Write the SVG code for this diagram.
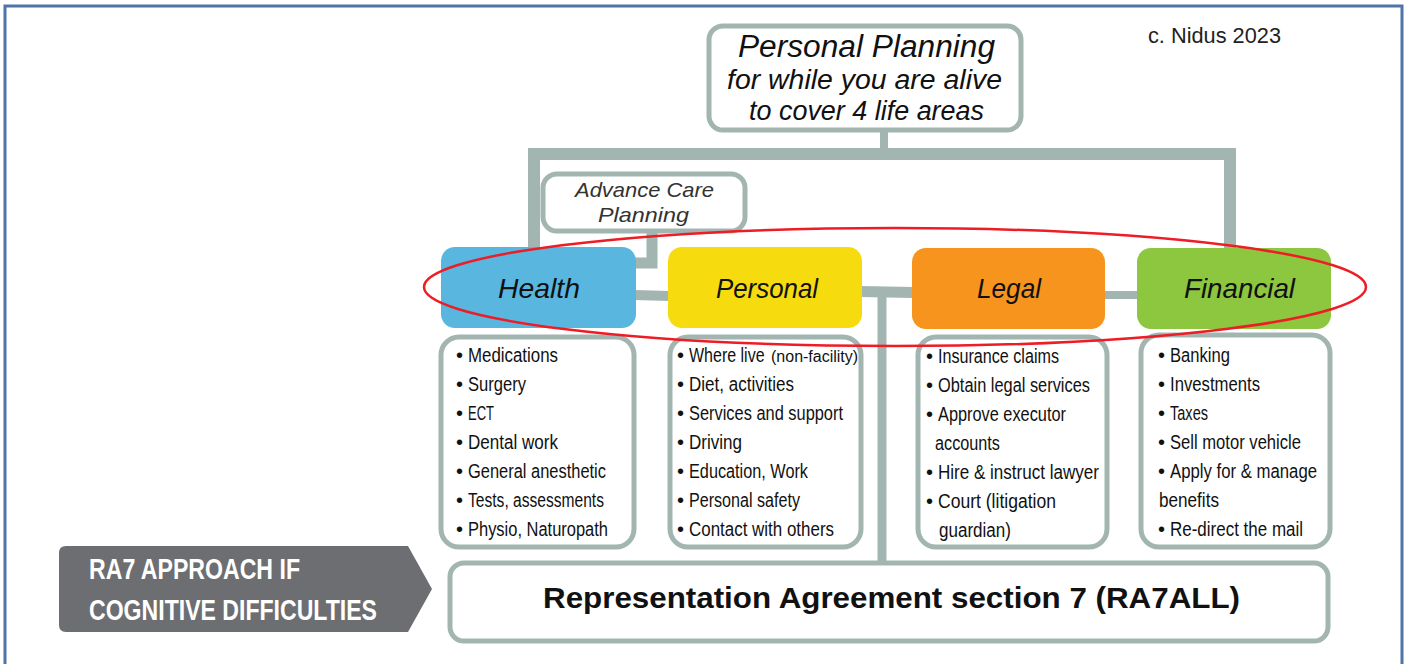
<svg xmlns="http://www.w3.org/2000/svg" width="1405" height="664" viewBox="0 0 1405 664">
<style>
.t{font-family:"Liberation Sans",Arial,sans-serif;}
.it{font-family:"Liberation Sans",Arial,sans-serif;font-style:italic;fill:#111;}
.li{font-family:"Liberation Sans",Arial,sans-serif;font-size:20px;fill:#111;}
.box{fill:#fff;stroke:#a2b5b1;stroke-width:5;}
.con{fill:none;stroke:#a2b5b1;}
</style>
<rect x="0" y="0" width="1405" height="664" fill="#fff"/>
<rect x="5" y="6" width="1397" height="700" fill="none" stroke="#4f74a8" stroke-width="3"/>
<text class="t" x="1148" y="43" font-size="22" fill="#222" textLength="133" lengthAdjust="spacingAndGlyphs">c. Nidus 2023</text>
<g id="connectors">
<path class="con" stroke-width="8" d="M884 130 V160"/>
<path class="con" stroke-width="12" d="M534 249 V154 H1230 V250"/>
<path class="con" stroke-width="11" d="M652 230 V263 H634"/>
<polygon points="634,290 670,291 670,301 634,300" fill="#a2b5b1"/>
<polygon points="860,286 914,287 914,298 860,297" fill="#a2b5b1"/>
<path class="con" stroke-width="9" d="M882 292 V564"/>
<polygon points="1103,291 1139,291 1139,299 1103,299" fill="#a2b5b1"/>
</g>
<g id="top">
<rect class="box" x="709" y="26" width="312" height="104" rx="14"/>
<text class="it" x="738" y="57" font-size="31" textLength="257" lengthAdjust="spacingAndGlyphs">Personal Planning</text>
<text class="it" x="727" y="89" font-size="27" textLength="275" lengthAdjust="spacingAndGlyphs">for while you are alive</text>
<text class="it" x="749" y="120" font-size="27" textLength="235" lengthAdjust="spacingAndGlyphs">to cover 4 life areas</text>
</g>
<g id="acp">
<rect class="box" x="543" y="174" width="202" height="57" rx="14"/>
<text class="it" x="575" y="197" font-size="21" style="fill:#333" textLength="139" lengthAdjust="spacingAndGlyphs">Advance Care</text>
<text class="it" x="598" y="222" font-size="21" style="fill:#333" textLength="91" lengthAdjust="spacingAndGlyphs">Planning</text>
</g>
<g id="health">
<rect x="441" y="247" width="195" height="81" rx="14" fill="#59b6df"/>
<text class="it" x="498" y="298" font-size="28" textLength="82" lengthAdjust="spacingAndGlyphs">Health</text>
</g>
<g id="personal">
<rect x="668" y="247" width="194" height="81" rx="14" fill="#f6dc0e"/>
<text class="it" x="716" y="298" font-size="28" textLength="102" lengthAdjust="spacingAndGlyphs">Personal</text>
</g>
<g id="legal">
<rect x="912" y="248" width="193" height="81" rx="14" fill="#f7941e"/>
<text class="it" x="977" y="298" font-size="28" textLength="64" lengthAdjust="spacingAndGlyphs">Legal</text>
</g>
<g id="financial">
<rect x="1137" y="248" width="194" height="81" rx="14" fill="#8dc63f"/>
<text class="it" x="1184" y="298" font-size="28" textLength="111" lengthAdjust="spacingAndGlyphs">Financial</text>
</g>
<g id="health-list">
<rect class="box" x="441" y="337" width="193" height="210" rx="18"/>
<g class="li">
<text x="456" y="362">•</text><text x="468" y="362" textLength="90" lengthAdjust="spacingAndGlyphs">Medications</text>
<text x="456" y="391">•</text><text x="468" y="391" textLength="58" lengthAdjust="spacingAndGlyphs">Surgery</text>
<text x="456" y="420">•</text><text x="468" y="420" textLength="26" lengthAdjust="spacingAndGlyphs">ECT</text>
<text x="456" y="449">•</text><text x="468" y="449" textLength="90" lengthAdjust="spacingAndGlyphs">Dental work</text>
<text x="456" y="478">•</text><text x="468" y="478" textLength="138" lengthAdjust="spacingAndGlyphs">General anesthetic</text>
<text x="456" y="507">•</text><text x="468" y="507" textLength="136" lengthAdjust="spacingAndGlyphs">Tests, assessments</text>
<text x="456" y="536">•</text><text x="468" y="536" textLength="140" lengthAdjust="spacingAndGlyphs">Physio, Naturopath</text>
</g>
</g>
<g id="personal-list">
<rect class="box" x="670" y="337" width="191" height="210" rx="18"/>
<g class="li">
<text x="677" y="362">•</text><text transform="translate(689,362) scale(0.8,1)" x="0" y="0">Where live</text><text x="771" y="362" font-size="16">(non-facility)</text>
<text x="677" y="391">•</text><text x="689" y="391" textLength="105" lengthAdjust="spacingAndGlyphs">Diet, activities</text>
<text x="677" y="420">•</text><text x="689" y="420" textLength="154" lengthAdjust="spacingAndGlyphs">Services and support</text>
<text x="677" y="449">•</text><text x="689" y="449" textLength="53" lengthAdjust="spacingAndGlyphs">Driving</text>
<text x="677" y="478">•</text><text x="689" y="478" textLength="119" lengthAdjust="spacingAndGlyphs">Education, Work</text>
<text x="677" y="507">•</text><text x="689" y="507" textLength="111" lengthAdjust="spacingAndGlyphs">Personal safety</text>
<text x="677" y="536">•</text><text x="689" y="536" textLength="145" lengthAdjust="spacingAndGlyphs">Contact with others</text>
</g>
</g>
<g id="legal-list">
<rect class="box" x="918" y="337" width="189" height="210" rx="18"/>
<g class="li">
<text x="926" y="363">•</text><text x="938" y="363" textLength="121" lengthAdjust="spacingAndGlyphs">Insurance claims</text>
<text x="926" y="392">•</text><text x="938" y="392" textLength="152" lengthAdjust="spacingAndGlyphs">Obtain legal services</text>
<text x="926" y="421">•</text><text x="938" y="421" textLength="128" lengthAdjust="spacingAndGlyphs">Approve executor</text>
<text x="935" y="450" textLength="65" lengthAdjust="spacingAndGlyphs">accounts</text>
<text x="926" y="479">•</text><text x="938" y="479" textLength="161" lengthAdjust="spacingAndGlyphs">Hire &amp; instruct lawyer</text>
<text x="926" y="508">•</text><text x="938" y="508" textLength="118" lengthAdjust="spacingAndGlyphs">Court (litigation</text>
<text x="939" y="537" textLength="72" lengthAdjust="spacingAndGlyphs">guardian)</text>
</g>
</g>
<g id="financial-list">
<rect class="box" x="1141" y="335" width="189" height="212" rx="18"/>
<g class="li">
<text x="1158" y="362">•</text><text x="1170" y="362" textLength="60" lengthAdjust="spacingAndGlyphs">Banking</text>
<text x="1158" y="391">•</text><text x="1170" y="391" textLength="90" lengthAdjust="spacingAndGlyphs">Investments</text>
<text x="1158" y="420">•</text><text x="1170" y="420" textLength="38" lengthAdjust="spacingAndGlyphs">Taxes</text>
<text x="1158" y="449">•</text><text x="1170" y="449" textLength="131" lengthAdjust="spacingAndGlyphs">Sell motor vehicle</text>
<text x="1158" y="478">•</text><text x="1170" y="478" textLength="147" lengthAdjust="spacingAndGlyphs">Apply for &amp; manage</text>
<text x="1159" y="507" textLength="60" lengthAdjust="spacingAndGlyphs">benefits</text>
<text x="1158" y="536">•</text><text x="1170" y="536" textLength="133" lengthAdjust="spacingAndGlyphs">Re-direct the mail</text>
</g>
</g>
<g id="ra7">
<rect class="box" x="450" y="563" width="878" height="78" rx="14"/>
<text class="t" x="543" y="608" font-size="30" font-weight="bold" fill="#111" textLength="697" lengthAdjust="spacingAndGlyphs">Representation Agreement section 7 (RA7ALL)</text>
</g>
<g id="approach">
<path d="M66 546 H408 L432 589 L408 632 H66 Q59 632 59 625 V553 Q59 546 66 546 Z" fill="#6d6e71"/>
<text class="t" x="89" y="579" font-size="29" font-weight="bold" fill="#fff" textLength="211" lengthAdjust="spacingAndGlyphs">RA7 APPROACH IF</text>
<text class="t" x="89" y="620" font-size="29" font-weight="bold" fill="#fff" textLength="288" lengthAdjust="spacingAndGlyphs">COGNITIVE DIFFICULTIES</text>
</g>
<ellipse cx="895" cy="287" rx="471" ry="59" fill="none" stroke="#ee1c24" stroke-width="2.5"/>
</svg>
